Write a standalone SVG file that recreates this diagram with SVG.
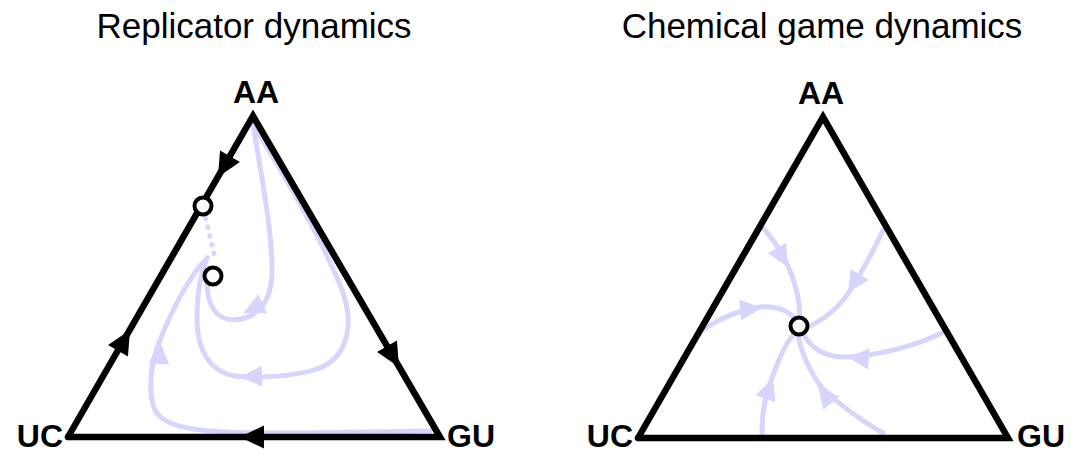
<svg xmlns="http://www.w3.org/2000/svg" xmlns:xlink="http://www.w3.org/1999/xlink" width="1071" height="454" viewBox="0 0 1071 454">
<style>
.title{font-family:"Liberation Sans",Arial,sans-serif;font-size:35px;fill:#000;text-anchor:middle}
.lab{font-family:"Liberation Sans",Arial,sans-serif;font-size:32px;font-weight:bold;fill:#000}
.edge{fill:none;stroke:#000;stroke-width:6.5;stroke-linejoin:miter;stroke-linecap:round}
.flow{fill:none;stroke:#d6d6fd;stroke-width:5;stroke-linecap:round}
.dot{fill:none;stroke:#d6d6fd;stroke-width:4.5;stroke-dasharray:5 4}
.fp{fill:#fafafa;stroke:#000;stroke-width:4}
.ah{fill:#000}
.lah{fill:#d6d6fd}
</style>
<defs>
<polygon id="bh" points="0,0 -24,-11.5 -24,11.5"/>
<polygon id="lh" points="0,0 -22,-10.5 -22,10.5"/>
</defs>
<rect width="1071" height="454" fill="#fff"/>
<text class="title" x="254" y="38">Replicator dynamics</text>
<text class="title" x="822" y="38">Chemical game dynamics</text>

<g id="left-connectors">
<path class="flow" d="M 430,431 L 300,433 C 200,434 160,430 153,405 C 148,385 152,360 160,340 C 172,310 190,275 207,258"/>
<path class="flow" d="M 253,124 C 262,180 272,230 272,270 C 272,295 263,312 245,318 C 220,325 208,310 207,285"/>
<path class="flow" d="M 253,124 C 290,185 322,240 340,285 C 355,320 350,355 320,368 C 295,377 260,378 235,376 C 210,372 197,350 197,320 C 197,295 200,275 207,258"/>
<path class="dot" d="M 205,216 L 215,258"/>
<use href="#lh" class="lah" transform="translate(243,313) rotate(155)"/>
<use href="#lh" class="lah" transform="translate(240,377) rotate(178)"/>
<use href="#lh" class="lah" transform="translate(160,342) rotate(-87)"/>
</g>

<g id="left-triangle">
<path class="edge" d="M 68,437 L 253,116 L 440,437 L 68,437"/>
<use href="#bh" class="ah" transform="translate(218,177) rotate(120)"/>
<use href="#bh" class="ah" transform="translate(130,330) rotate(-60)"/>
<use href="#bh" class="ah" transform="translate(399,367) rotate(60)"/>
<use href="#bh" class="ah" transform="translate(240,437) rotate(180)"/>
</g>
<g id="left-fp1"><circle class="fp" cx="203" cy="206" r="8.5"/></g>
<g id="left-fp2"><circle class="fp" cx="213" cy="276" r="8.5"/></g>
<g id="left-AA"><text class="lab" x="256" y="103" text-anchor="middle">AA</text></g>
<g id="left-UC"><text class="lab" x="63" y="447" text-anchor="end">UC</text></g>
<g id="left-GU"><text class="lab" x="447" y="447">GU</text></g>

<g id="right-connectors">
<path class="flow" d="M 763,228 C 772,238 782,252 788,266 C 795,282 800,300 800,318"/>
<path class="flow" d="M 883,230 C 873,252 862,272 849,292 C 840,306 827,318 806,328"/>
<path class="flow" d="M 703,330 C 720,318 740,310 760,307 C 778,305 790,312 796,320"/>
<path class="flow" d="M 942,333 C 915,346 880,355 848,357 C 825,358 810,348 803,333"/>
<path class="flow" d="M 762,433 C 762,415 765,395 772,378 C 779,358 786,342 795,333"/>
<path class="flow" d="M 883,433 C 860,420 840,405 822,388 C 810,372 800,350 798,334"/>
<use href="#lh" class="lah" transform="translate(788,267) rotate(60)"/>
<use href="#lh" class="lah" transform="translate(848,293) rotate(122)"/>
<use href="#lh" class="lah" transform="translate(762,308) rotate(-5)"/>
<use href="#lh" class="lah" transform="translate(847,357) rotate(185)"/>
<use href="#lh" class="lah" transform="translate(773,378) rotate(-70)"/>
<use href="#lh" class="lah" transform="translate(818,386) rotate(-128)"/>
</g>
<g id="right-triangle">
<path class="edge" d="M 638,438 L 823,117 L 1008,438 L 638,438"/>
</g>
<g id="right-fp"><circle class="fp" cx="799" cy="326" r="8.5"/></g>
<g id="right-AA"><text class="lab" x="821" y="104" text-anchor="middle">AA</text></g>
<g id="right-UC"><text class="lab" x="633" y="447" text-anchor="end">UC</text></g>
<g id="right-GU"><text class="lab" x="1017" y="447">GU</text></g>
</svg>
